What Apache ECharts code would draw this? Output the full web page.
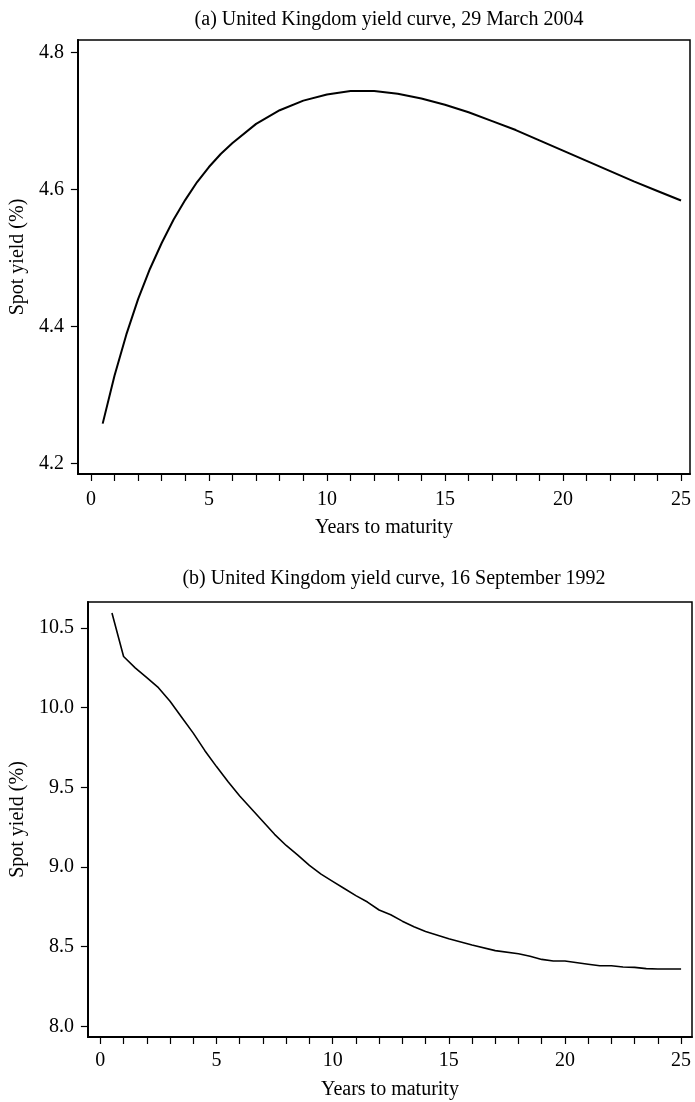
<!DOCTYPE html>
<html>
<head>
<meta charset="utf-8">
<script src="https://cdn.jsdelivr.net/npm/echarts@6/dist/echarts.min.js"></script>
<style>
  html, body { margin: 0; padding: 0; background: #fff; }
  #chart { width: 695px; height: 1102px; }
</style>
</head>
<body>
<div id="chart"></div>
<script>
// ---- Data ----
const titleA = '(a) United Kingdom yield curve, 29 March 2004';
const titleB = '(b) United Kingdom yield curve, 16 September 1992';
const xAxisName = 'Years to maturity';
const yAxisName = 'Spot yield (%)';

const maturityA = [0.5, 1, 1.5, 2, 2.5, 3, 3.5, 4, 4.5, 5, 5.5, 6, 7, 8, 9, 10, 11, 12, 13, 14, 15, 16, 17, 18, 19, 20, 21, 22, 23, 24, 25];
const yieldA = [4.258, 4.328, 4.388, 4.440, 4.484, 4.522, 4.556, 4.585, 4.611, 4.633, 4.652, 4.668, 4.696, 4.716, 4.730, 4.739, 4.744, 4.744, 4.740, 4.733, 4.724, 4.713, 4.700, 4.687, 4.672, 4.657, 4.642, 4.627, 4.612, 4.598, 4.584];

const maturityB = [0.5, 1, 1.5, 2, 2.5, 3, 3.5, 4, 4.5, 5, 5.5, 6, 6.5, 7, 7.5, 8, 8.5, 9, 9.5, 10, 10.5, 11, 11.5, 12, 12.5, 13, 13.5, 14, 15, 16, 17, 18, 18.5, 19, 19.5, 20, 21, 21.5, 22, 22.5, 23, 23.5, 24, 25];
const yieldB = [10.594, 10.321, 10.25, 10.188, 10.125, 10.04, 9.94, 9.84, 9.73, 9.63, 9.535, 9.445, 9.365, 9.285, 9.205, 9.135, 9.075, 9.01, 8.955, 8.91, 8.865, 8.82, 8.78, 8.73, 8.70, 8.66, 8.625, 8.595, 8.55, 8.51, 8.475, 8.455, 8.44, 8.42, 8.41, 8.41, 8.39, 8.38, 8.38, 8.372, 8.37, 8.362, 8.36, 8.36];

const xTickValues = [0,1,2,3,4,5,6,7,8,9,10,11,12,13,14,15,16,17,18,19,20,21,22,23,24,25];
const xLabelValues = [0, 5, 10, 15, 20, 25];
const yTicksA = [4.2, 4.4, 4.6, 4.8];
const yTicksB = [8.0, 8.5, 9.0, 9.5, 10.0, 10.5];

// ---- Chart ----
const FONT = 'Liberation Serif';
const FS = 20;
const textStyle = { fontFamily: FONT, fontSize: FS, color: '#000' };

function pairs(xs, ys) { return xs.map((x, i) => [x, ys[i]]); }

function xAxis(gridIndex, min, max, labelMargin, nameGap) {
  return {
    type: 'value', gridIndex, min, max,
    name: xAxisName, nameLocation: 'middle', nameGap: nameGap,
    nameTextStyle: textStyle,
    axisLine: { show: true, onZero: false, lineStyle: { color: '#000', width: 2 } },
    axisTick: { show: true, inside: false, length: 7, customValues: xTickValues, lineStyle: { color: '#000', width: 1.2 } },
    axisLabel: { show: true, margin: labelMargin, customValues: xLabelValues, ...textStyle, formatter: v => String(Math.round(v)) },
    splitLine: { show: false }
  };
}
function yAxis(gridIndex, min, max, ticks, gap) {
  return {
    type: 'value', gridIndex, min, max,
    name: yAxisName, nameLocation: 'middle', nameGap: gap, nameRotate: 90,
    nameTextStyle: textStyle,
    axisLine: { show: true, onZero: false, lineStyle: { color: '#000', width: 2 } },
    axisTick: { show: true, inside: false, length: 7, customValues: ticks, lineStyle: { color: '#000', width: 1.2 } },
    axisLabel: { show: true, margin: 14, customValues: ticks, ...textStyle, formatter: v => v.toFixed(1) },
    splitLine: { show: false }
  };
}

const chart = echarts.init(document.getElementById('chart'), null, { renderer: 'canvas' });
chart.setOption({
  animation: false,
  backgroundColor: '#fff',
  title: [
    { text: titleA, left: 384, top: 5, textAlign: 'center', textStyle: { ...textStyle, fontWeight: 'normal' } },
    { text: titleB, left: 389, top: 564, textAlign: 'center', textStyle: { ...textStyle, fontWeight: 'normal' } }
  ],
  grid: [
    { left: 76, top: 40, width: 614, height: 434, show: true, borderColor: '#000', borderWidth: 1.5, containLabel: false },
    { left: 86, top: 602, width: 606, height: 435, show: true, borderColor: '#000', borderWidth: 1.5, containLabel: false }
  ],
  xAxis: [ xAxis(0, -0.55, 25.38, 16, 44), xAxis(1, -0.536, 25.47, 14, 43) ],
  yAxis: [ yAxis(0, 4.1844, 4.8186, yTicksA, 49), yAxis(1, 7.933, 10.663, yTicksB, 54) ],
  series: [
    { type: 'line', xAxisIndex: 0, yAxisIndex: 0, data: pairs(maturityA, yieldA), showSymbol: false, symbol: 'none', smooth: false, lineStyle: { color: '#000', width: 2 } },
    { type: 'line', xAxisIndex: 1, yAxisIndex: 1, data: pairs(maturityB, yieldB), showSymbol: false, symbol: 'none', smooth: false, lineStyle: { color: '#000', width: 1.6 } }
  ]
});
</script>
</body>
</html>
